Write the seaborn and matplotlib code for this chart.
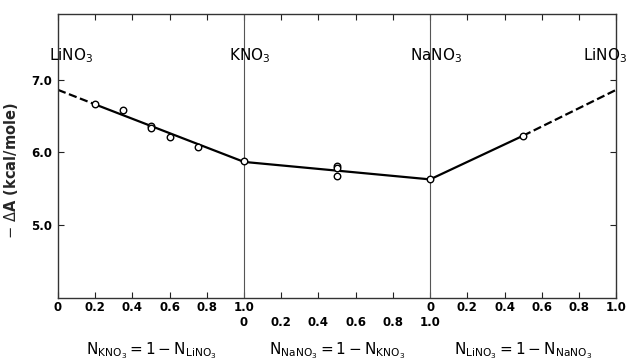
import matplotlib
matplotlib.use("Agg")
import matplotlib.pyplot as plt
import matplotlib.transforms as mtransforms
import seaborn as sns
import pandas as pd

# measured points, one list per binary system (mole fraction, -dA in kcal/mole)
kno3_frac = [0.2, 0.35, 0.5, 0.5, 0.6, 0.75]
dA_li_k = [6.66, 6.58, 6.37, 6.33, 6.21, 6.07]
nano3_frac = [0.5, 0.5, 0.5]
dA_k_na = [5.82, 5.78, 5.68]
lino3_frac = [0.5]
dA_na_li = [6.23]
pure_salts = ["KNO$_3$", "NaNO$_3$"]
dA_pure = [5.88, 5.63]

# fitted lines: solid part and dashed extrapolations (x in 0..3 along the triangle)
solid_x = [0.2, 1.0, 2.0, 2.5]
solid_y = [6.66, 5.87, 5.63, 6.23]
dash_left_x = [0.0, 0.2]
dash_left_y = [6.86, 6.66]
dash_right_x = [2.5, 3.0]
dash_right_y = [6.23, 6.86]

top_labels = ["LiNO$_3$", "KNO$_3$", "NaNO$_3$", "LiNO$_3$"]
frac_labels = ["0", "0.2", "0.4", "0.6", "0.8", "1.0"]
y_ticks = [5.0, 6.0, 7.0]
axis_titles = [r"$\mathregular{N_{KNO_3}= 1 - N_{LiNO_3}}$",
               r"$\mathregular{N_{NaNO_3}= 1 - N_{KNO_3}}$",
               r"$\mathregular{N_{LiNO_3}= 1 - N_{NaNO_3}}$"]

pts = pd.DataFrame({
    "x": kno3_frac + [1.0 + f for f in nano3_frac] + [2.0 + f for f in lino3_frac] + [1.0, 2.0],
    "y": dA_li_k + dA_k_na + dA_na_li + dA_pure,
})

sns.set_style("ticks")
fig = plt.figure(figsize=(6.3, 3.63), dpi=100)
ax = fig.add_axes([0.092, 0.179, 0.886, 0.782])

ax.axvline(1.0, color="#555555", lw=0.8, zorder=1)
ax.axvline(2.0, color="#555555", lw=0.8, zorder=1)

sns.lineplot(x=solid_x, y=solid_y, ax=ax, color="black", lw=1.6, zorder=2)
sns.lineplot(x=dash_left_x, y=dash_left_y, ax=ax, color="black", lw=1.6, linestyle="--", zorder=2)
sns.lineplot(x=dash_right_x, y=dash_right_y, ax=ax, color="black", lw=1.6, linestyle="--", zorder=2)
sns.scatterplot(data=pts, x="x", y="y", ax=ax, s=22, marker="o",
                facecolor="white", edgecolor="black", linewidth=1.0, zorder=3)

ax.set_xlim(0, 3)
ax.set_ylim(4.0, 7.9)

# bottom ticks: section 2 labels sit on a second row
pos = {}
for sec in range(3):
    for i, lab in enumerate(frac_labels):
        key = round(sec + i * 0.2, 2)
        pos.setdefault(key, ["", ""])
        row = 1 if sec == 1 else 0
        pos[key][row] = lab
ticks = sorted(pos)
labels = [pos[k][0] + "\n" + pos[k][1] if pos[k][1] else pos[k][0] for k in ticks]
ax.set_xticks(ticks)
ax.set_xticklabels(labels, fontsize=8.5, fontweight="bold", linespacing=1.25, va="top")
ax.set_yticks(y_ticks)
ax.set_yticklabels([f"{v:.1f}" for v in y_ticks], fontsize=8.5, fontweight="bold")

ax.tick_params(direction="in", top=True, right=True, length=4, width=0.8, pad=4,
               color="#222222", labelcolor="black")
ax.tick_params(axis="x", pad=2)
for s in ax.spines.values():
    s.set_color("#333333")
    s.set_linewidth(1.0)

ax.set_xlabel("")
ax.set_ylabel(r"$-$ $\Delta$A (kcal/mole)", fontsize=10.5, fontweight="bold")
ax.yaxis.set_label_coords(-0.068, 0.45)

for x, lab in zip([0.07, 1.03, 2.03, 2.94], top_labels):
    ax.text(x, 7.33, lab, ha="center", va="center", fontsize=11, color="black")

trans = mtransforms.blended_transform_factory(ax.transData, ax.transAxes)
for sec, t in enumerate(axis_titles):
    ax.text(sec + 0.5, -0.185, t, transform=trans, ha="center", va="center",
            fontsize=11, color="black")

fig.savefig("out.png", dpi=100)
plt.close(fig)
